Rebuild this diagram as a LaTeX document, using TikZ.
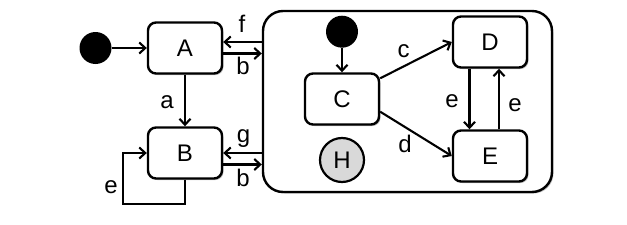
\documentclass[tikz,border=0pt]{standalone}
\usepackage{fontspec}
\setmainfont{Liberation Sans}
\usetikzlibrary{arrows.meta,shadows}
\begin{document}
\begin{tikzpicture}[x=1pt,y=-1pt,
  shad/.style={drop shadow={shadow xshift=1.5pt,shadow yshift=-1.5pt,opacity=0.25,fill=black}},
  statebox/.style={draw,line width=2.4pt,rounded corners=8pt,fill=white,minimum width=74pt,minimum height=51pt,inner sep=0pt,font=\fontsize{24}{28}\selectfont,shad},
  superbox/.style={draw,line width=2.4pt,rounded corners=20pt,fill=white,minimum width=289pt,minimum height=181pt,inner sep=0pt,shad},
  initdot/.style={circle,fill=black,minimum size=32pt,inner sep=0pt},
  histdot/.style={circle,draw,line width=2.2pt,fill=gray!30,minimum size=44pt,inner sep=0pt,font=\fontsize{24}{28}\selectfont},
  arr/.style={line width=2.1pt,-{Straight Barb[length=6pt,width=11pt]}},
  lbl/.style={inner sep=0pt,font=\fontsize{24}{28}\selectfont}]
\fill[white] (0,0) rectangle (627,225);
\useasboundingbox (0,0) rectangle (627,225);

\node[superbox] (S) at (407.5,101.5) {};
\node[statebox] (A) at (185,48) {A};
\node[statebox] (B) at (185,153) {B};
\node[statebox] (C) at (342,99) {C};
\node[statebox] (D) at (490,42) {D};
\node[statebox] (E) at (490,156) {E};
\node[initdot] (i1) at (95.5,48) {};
\node[initdot] (i2) at (342,31.7) {};
\node[histdot] (H) at (342,160) {H};

\draw[arr] (i1) -- (A);
\draw[arr] (i2) -- (C);
\draw[arr] (A) -- (B);
\draw[arr] ([yshift=6pt]A.east -| S.west) -- ([yshift=6pt]A.east);
\draw[arr] ([yshift=-5.5pt]A.east) -- ([yshift=-5.5pt]A.east -| S.west);
\draw[arr] (B.east -| S.west) -- (B.east);
\draw[arr] ([yshift=-11.5pt]B.east) -- ([yshift=-11.5pt]B.east -| S.west);
\coordinate (lp) at (123,204);
\draw[arr] (B.south) |- (lp) |- (B.west);
\draw[arr] ([yshift=-6pt]C.north east) -- (D.west);
\draw[arr] ([yshift=14pt]C.south east) -- (E.west);
\draw[arr] ([xshift=-20.5pt]D.south) -- ([xshift=-20.5pt]D.south |- E.north);
\draw[arr] ([xshift=9pt]E.north) -- ([xshift=9pt]E.north |- D.south);

\node[lbl] (lf) at (242,23.5) {f};
\node[lbl] (lb1) at (243,66) {b};
\node[lbl] (la) at (167,102) {a};
\node[lbl] (lg) at (243.5,139) {g};
\node[lbl] (lb2) at (243,177.5) {b};
\node[lbl] (le1) at (111,187) {e};
\node[lbl] (lc) at (403.5,51) {c};
\node[lbl] (ld) at (405,144) {d};
\node[lbl] (le2) at (452,101.5) {e};
\node[lbl] (le3) at (515,105) {e};
\end{tikzpicture}
\end{document}
